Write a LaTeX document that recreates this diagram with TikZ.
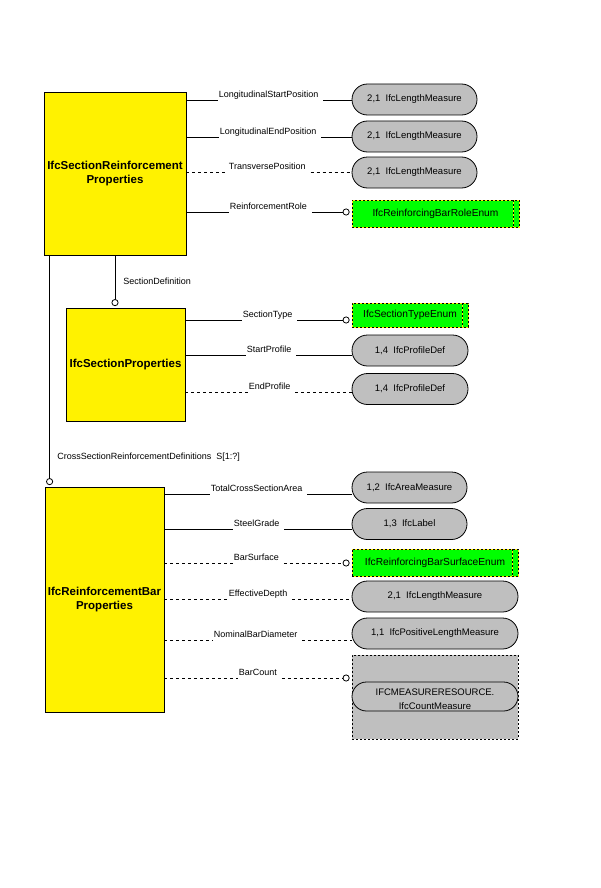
\documentclass[tikz,border=0pt]{standalone}
\usepackage{fontspec}
\setmainfont{Liberation Sans}
\usetikzlibrary{shapes.misc}
\usetikzlibrary{arrows.meta}

\begin{document}
\begin{tikzpicture}[x=1pt,y=-1pt,line width=0.8pt,
	entity/.style={rectangle, draw, fill=yellow, inner sep=0pt, align=center, font=\fontsize{11.5}{13.5}\selectfont\bfseries},
	attr/.style={anchor=south west, inner sep=0.5pt, text depth=2pt, font=\fontsize{9}{10}\selectfont},
	rolename/.style={anchor=west, inner sep=0pt, font=\fontsize{9}{10}\selectfont},
	deftype/.style={rounded rectangle, draw, fill=black!25, inner sep=0pt, minimum height=31pt, font=\fontsize{9.5}{11}\selectfont},
	enumtype/.style={rectangle, inner sep=0pt, font=\fontsize{10.2}{12}\selectfont,
		preaction={fill=green, draw=yellow, solid},
		draw=black, dash pattern=on 2pt off 2pt,
		path picture={
			\draw[yellow, solid] ([xshift=-6pt]path picture bounding box.north east) -- ([xshift=-6pt]path picture bounding box.south east);
			\draw[black, dash pattern=on 2pt off 2pt] ([xshift=-6pt]path picture bounding box.north east) -- ([xshift=-6pt]path picture bounding box.south east);
		}},
	selectbox/.style={rectangle, draw, fill=black!25, dash pattern=on 2pt off 2pt, inner sep=0pt},
	opt/.style={dash pattern=on 3pt off 3pt},
	ref/.style={-{Circle[length=7pt,fill=white]}, shorten >=2pt}
]
	\useasboundingbox (0,0) rectangle (600,888);

	% entities
	\node[entity, minimum width=142pt, minimum height=163pt] (sr) at (115,173.5) {IfcSectionReinforcement\\Properties};
	\node[entity, minimum width=119pt, minimum height=113pt] (sp) at (125.5,364.5) {IfcSectionProperties};
	\node[entity, minimum width=119pt, minimum height=225pt] (rb) at (104.5,599.5) {IfcReinforcementBar\\Properties};

	\draw[ref, shorten >=1.5pt] (sr.south) -- (sr.south |- sp.north);
	\node[rolename] (sd) at (123,281) {SectionDefinition};
	\draw[ref, shorten >=1.5pt] ([xshift=6pt]sr.south west) -- ([xshift=5pt]rb.north west);
	\node[rolename] (csd) at (57,457) {CrossSectionReinforcementDefinitions\ \ S[1:?]};

	% IfcSectionReinforcementProperties
	\node[attr] (a1) at (218,100) {LongitudinalStartPosition};
	\node[attr] (a2) at (219,137) {LongitudinalEndPosition};
	\node[attr] (a3) at (228,172) {TransversePosition};
	\node[attr] (a4) at (229,212) {ReinforcementRole};
	\node[deftype, minimum width=125pt] (t1) at (414.5,99.5) {2,1\ \ IfcLengthMeasure};
	\node[deftype, minimum width=125pt] (t2) at (414.5,136.5) {2,1\ \ IfcLengthMeasure};
	\node[deftype, minimum width=125pt] (t3) at (414.5,172.5) {2,1\ \ IfcLengthMeasure};
	\node[enumtype, minimum width=167pt, minimum height=27pt] (e1) at (435.5,213.5) {IfcReinforcingBarRoleEnum\hspace{6pt}};

	\draw (sr.east |- a1.south) -- (a1.south west);
	\draw ([xshift=4pt]a1.south east) -- (t1.west |- a1.south);
	\draw (sr.east |- a2.south) -- (a2.south west);
	\draw ([xshift=4pt]a2.south east) -- (t2.west |- a2.south);
	\draw[opt] (sr.east |- a3.south) -- (a3.south west);
	\draw[opt] ([xshift=4pt]a3.south east) -- (t3.west |- a3.south);
	\draw (sr.east |- a4.south) -- (a4.south west);
	\draw[ref] ([xshift=4pt]a4.south east) -- (e1.west |- a4.south);

	% IfcSectionProperties
	\node[attr] (a5) at (242,320) {SectionType};
	\node[attr] (a6) at (246,355) {StartProfile};
	\node[attr] (a7) at (248,392) {EndProfile};
	\node[enumtype, minimum width=116pt, minimum height=24pt] (e2) at (410,315) {IfcSectionTypeEnum\hspace{6pt}};
	\node[deftype, minimum width=116pt] (t6) at (410,350.5) {1,4\ \ IfcProfileDef};
	\node[deftype, minimum width=116pt] (t7) at (410,389) {1,4\ \ IfcProfileDef};

	\draw (sp.east |- a5.south) -- (a5.south west);
	\draw[ref] ([xshift=4pt]a5.south east) -- (e2.west |- a5.south);
	\draw (sp.east |- a6.south) -- (a6.south west);
	\draw ([xshift=4pt]a6.south east) -- (t6.west |- a6.south);
	\draw[opt] (sp.east |- a7.south) -- (a7.south west);
	\draw[opt] ([xshift=4pt]a7.south east) -- (t7.west |- a7.south);

	% IfcReinforcementBarProperties
	\node[attr] (a8) at (210,494) {TotalCrossSectionArea};
	\node[attr] (a9) at (233,529) {SteelGrade};
	\node[attr] (a10) at (233,563) {BarSurface};
	\node[attr] (a11) at (228,599) {EffectiveDepth};
	\node[attr] (a12) at (213,640) {NominalBarDiameter};
	\node[attr] (a13) at (238,678) {BarCount};
	\node[deftype, minimum width=115pt] (t8) at (409.5,487.5) {1,2\ \ IfcAreaMeasure};
	\node[deftype, minimum width=115pt] (t9) at (409.5,524) {1,3\ \ IfcLabel};
	\node[enumtype, minimum width=166pt, minimum height=27pt] (e3) at (435,562.5) {IfcReinforcingBarSurfaceEnum\hspace{6pt}};
	\node[deftype, minimum width=166pt] (t11) at (435,596.5) {2,1\ \ IfcLengthMeasure};
	\node[deftype, minimum width=166pt] (t12) at (435,633.5) {1,1\ \ IfcPositiveLengthMeasure};
	\node[selectbox, minimum width=166pt, minimum height=84pt] (bc) at (435,697) {};
	\node[deftype, minimum width=166pt, minimum height=29pt] (bcm) at (435,696.5) {};
	\node[align=center, inner sep=0pt, font=\fontsize{9.5}{14}\selectfont] (bct) at (435,699.5) {IFCMEASURERESOURCE.\\IfcCountMeasure};

	\draw (rb.east |- a8.south) -- (a8.south west);
	\draw ([xshift=4pt]a8.south east) -- (t8.west |- a8.south);
	\draw (rb.east |- a9.south) -- (a9.south west);
	\draw ([xshift=4pt]a9.south east) -- (t9.west |- a9.south);
	\draw[opt] (rb.east |- a10.south) -- (a10.south west);
	\draw[opt, ref] ([xshift=4pt]a10.south east) -- (e3.west |- a10.south);
	\draw[opt] (rb.east |- a11.south) -- (a11.south west);
	\draw[opt] ([xshift=4pt]a11.south east) -- (t11.west |- a11.south);
	\draw[opt] (rb.east |- a12.south) -- (a12.south west);
	\draw[opt] ([xshift=4pt]a12.south east) -- (t12.west |- a12.south);
	\draw[opt] (rb.east |- a13.south) -- (a13.south west);
	\draw[opt, ref] ([xshift=4pt]a13.south east) -- (bc.west |- a13.south);
\end{tikzpicture}
\end{document}
